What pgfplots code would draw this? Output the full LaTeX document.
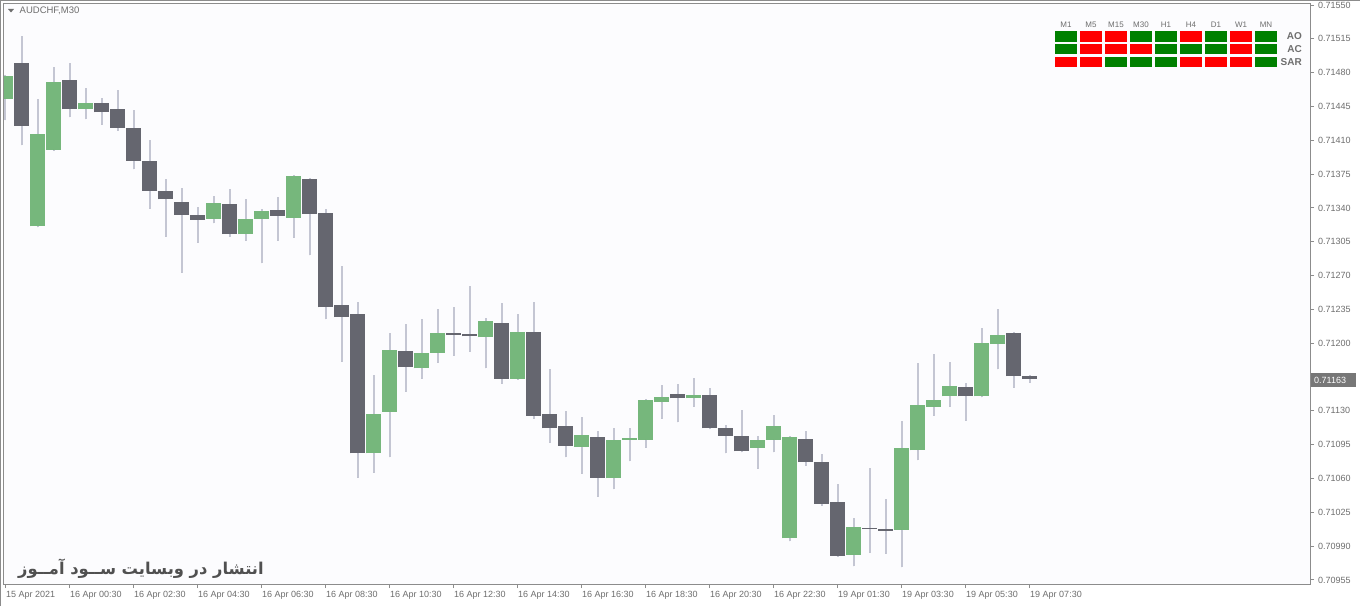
\documentclass[border=0pt]{standalone}
\usepackage{pgfplots}
\pgfplotsset{compat=1.18}
\usepackage{pgfplotstable}
\usepackage{fontspec}
\setmainfont{Liberation Sans}
\newfontfamily\arabicfont[Script=Arabic]{DejaVu Sans}
\TeXXeTstate=1

\definecolor{bull}{HTML}{76B77C}
\definecolor{bear}{HTML}{65666F}
\definecolor{wick}{HTML}{C4C6D3}
\definecolor{framegray}{HTML}{8C8C8C}
\definecolor{labelgray}{HTML}{6E6E6E}
\definecolor{sigG}{HTML}{008000}
\definecolor{sigR}{HTML}{FF0000}
\definecolor{bg}{HTML}{FCFCFE}
\definecolor{pricebox}{HTML}{777777}
\definecolor{wmark}{HTML}{505050}

% bullish candles: index, open, high, low, close
\pgfplotstableread{
i O H L C
0 0.71453 0.71478 0.71431 0.71477
2 0.71321 0.71453 0.71320 0.71417
3 0.71400 0.71486 0.71399 0.71470
5 0.71442 0.71464 0.71432 0.71449
13 0.71329 0.71352 0.71324 0.71345
15 0.71313 0.71349 0.71306 0.71329
16 0.71329 0.71339 0.71283 0.71337
18 0.71330 0.71374 0.71309 0.71373
23 0.71086 0.71167 0.71066 0.71127
24 0.71129 0.71211 0.71082 0.71193
26 0.71174 0.71225 0.71163 0.71190
27 0.71190 0.71235 0.71180 0.71211
30 0.71206 0.71226 0.71174 0.71223
32 0.71163 0.71230 0.71162 0.71212
36 0.71093 0.71124 0.71065 0.71105
38 0.71060 0.71112 0.71049 0.71100
39 0.71100 0.71112 0.71078 0.71102
40 0.71100 0.71142 0.71092 0.71141
41 0.71139 0.71157 0.71122 0.71144
43 0.71143 0.71164 0.71134 0.71146
47 0.71092 0.71104 0.71070 0.71100
48 0.71100 0.71126 0.71087 0.71114
49 0.70998 0.71104 0.70995 0.71103
53 0.70981 0.71019 0.70969 0.71010
56 0.71007 0.71120 0.70968 0.71092
57 0.71089 0.71180 0.71079 0.71136
58 0.71134 0.71189 0.71125 0.71141
59 0.71145 0.71181 0.71134 0.71156
61 0.71145 0.71216 0.71144 0.71200
62 0.71199 0.71235 0.71173 0.71209
}\bulldata

% bearish candles: index, open, high, low, close
\pgfplotstableread{
i O H L C
1 0.71490 0.71518 0.71405 0.71425
4 0.71472 0.71490 0.71434 0.71442
6 0.71449 0.71454 0.71426 0.71439
7 0.71442 0.71462 0.71420 0.71423
8 0.71423 0.71441 0.71380 0.71389
9 0.71389 0.71410 0.71339 0.71358
10 0.71358 0.71370 0.71310 0.71349
11 0.71346 0.71361 0.71273 0.71333
12 0.71333 0.71341 0.71304 0.71328
14 0.71344 0.71360 0.71310 0.71313
17 0.71338 0.71351 0.71306 0.71332
19 0.71370 0.71371 0.71291 0.71334
20 0.71335 0.71339 0.71225 0.71237
21 0.71240 0.71280 0.71181 0.71227
22 0.71230 0.71243 0.71061 0.71086
25 0.71192 0.71220 0.71150 0.71175
28 0.71211 0.71237 0.71187 0.71209
29 0.71210 0.71259 0.71191 0.71207
31 0.71221 0.71242 0.71158 0.71163
33 0.71212 0.71243 0.71122 0.71125
34 0.71127 0.71173 0.71097 0.71112
35 0.71114 0.71130 0.71082 0.71094
37 0.71103 0.71109 0.71041 0.71061
42 0.71147 0.71158 0.71118 0.71143
44 0.71146 0.71154 0.71111 0.71112
45 0.71112 0.71115 0.71086 0.71104
46 0.71104 0.71131 0.71087 0.71088
50 0.71101 0.71109 0.71073 0.71077
51 0.71077 0.71085 0.71032 0.71034
52 0.71036 0.71054 0.70979 0.70980
54 0.71009 0.71071 0.70983 0.71008
55 0.71008 0.71039 0.70982 0.71006
60 0.71155 0.71159 0.71120 0.71145
63 0.71211 0.71212 0.71154 0.71166
64 0.71166 0.71167 0.71159 0.71163
}\beardata

\pgfplotsset{
  candle/.style 2 args={only marks, mark=*, mark size=0pt,
    mark options={draw=none, fill=none}, forget plot,
    error bars/.cd, y dir=plus, y explicit, error mark=none,
    error bar style={line width=#1, draw=#2}},
}

\begin{document}
\begin{tikzpicture}
\useasboundingbox (0pt,0pt) rectangle (1360pt,606pt);
\fill[white] (0pt,0pt) rectangle (1360pt,606pt);
\begin{axis}[
  at={(4pt,22pt)}, anchor=south west,
  width=1306pt, height=580pt, scale only axis,
  xmin=-0.09375, xmax=81.53,
  ymin=0.709508, ymax=0.715511,
  axis line style={draw=framegray, line width=1pt},
  axis background/.style={fill=bg},
  xtick={0,4,...,64},
  xticklabels={15 Apr 2021,16 Apr 00:30,16 Apr 02:30,16 Apr 04:30,16 Apr 06:30,16 Apr 08:30,16 Apr 10:30,16 Apr 12:30,16 Apr 14:30,16 Apr 16:30,16 Apr 18:30,16 Apr 20:30,16 Apr 22:30,19 Apr 01:30,19 Apr 03:30,19 Apr 05:30,19 Apr 07:30},
  ytick={0.70955,0.70990,0.71025,0.71060,0.71095,0.71130,0.71165,0.71200,0.71235,0.71270,0.71305,0.71340,0.71375,0.71410,0.71445,0.71480,0.71515,0.71550},
  yticklabels={0.70955,0.70990,0.71025,0.71060,0.71095,0.71130,,0.71200,0.71235,0.71270,0.71305,0.71340,0.71375,0.71410,0.71445,0.71480,0.71515,0.71550},
  xtick pos=bottom, ytick pos=right, yticklabel pos=right,
  tick align=outside, major tick length=4pt,
  every tick/.style={draw=framegray, line width=1pt},
  tick label style={font=\fontsize{9}{10}\selectfont, text=labelgray},
  xticklabel style={anchor=north west, inner sep=0pt, xshift=0.5pt, yshift=-3pt},
  yticklabel style={anchor=west, inner sep=0pt, xshift=4pt},
  clip=true,
]
% wicks
\addplot[candle={2pt}{wick}]
  table[x=i, y=L, y error plus expr=\thisrow{H}-\thisrow{L}] {\bulldata};
\addplot[candle={2pt}{wick}]
  table[x=i, y=L, y error plus expr=\thisrow{H}-\thisrow{L}] {\beardata};
% bodies
\addplot[candle={15pt}{bull}]
  table[x=i, y=O, y error plus expr=\thisrow{C}-\thisrow{O}] {\bulldata};
\addplot[candle={15pt}{bear}]
  table[x=i, y=C, y error plus expr=\thisrow{O}-\thisrow{C}] {\beardata};
\end{axis}

\begin{scope}[x=1pt, y=1pt]
% window frame
\draw[framegray, line width=1pt] (0.5,0) -- (0.5,605.5) -- (1360,605.5);
% title
\fill[labelgray] (8,597) -- (14,597) -- (11,593.5) -- cycle;
\node[anchor=west, inner sep=0pt, text=labelgray, font=\fontsize{9.5}{10}\selectfont] at (19.5,595) {AUDCHF,M30};
% last price box
\fill[pricebox] (1311,219) rectangle (1356,233);
\node[anchor=west, inner sep=0pt, text=white, font=\fontsize{9}{10}\selectfont] at (1314,226) {0.71163};
% signal panel
\foreach \lab [count=\k from 0] in {M1,M5,M15,M30,H1,H4,D1,W1,MN}
  \node[text=labelgray, inner sep=0pt, font=\fontsize{8}{9}\selectfont] at (1066+25*\k,581) {\lab};
\foreach \c [count=\k from 0] in {G,R,R,G,G,R,G,R,G}
  \fill[sig\c] (1055+25*\k,575) rectangle ++(21.7,-10.6);
\foreach \c [count=\k from 0] in {G,R,R,R,G,G,G,R,G}
  \fill[sig\c] (1055+25*\k,562) rectangle ++(21.7,-10.4);
\foreach \c [count=\k from 0] in {R,R,G,G,G,R,R,R,G}
  \fill[sig\c] (1055+25*\k,549.3) rectangle ++(21.7,-10.6);
\node[anchor=east, inner sep=0pt, text=labelgray, font=\bfseries\fontsize{10}{11}\selectfont] at (1302,569.5) {AO};
\node[anchor=east, inner sep=0pt, text=labelgray, font=\bfseries\fontsize{10}{11}\selectfont] at (1302,557) {AC};
\node[anchor=east, inner sep=0pt, text=labelgray, font=\bfseries\fontsize{10}{11}\selectfont] at (1302,544) {SAR};
% watermark
\node[anchor=base west, inner sep=0pt, text=wmark] at (18,32)
  {\arabicfont\bfseries\fontsize{16.3}{20}\selectfont\beginR انتشار در وبسایت ســود آمــوز\endR};
\end{scope}
\end{tikzpicture}
\end{document}
